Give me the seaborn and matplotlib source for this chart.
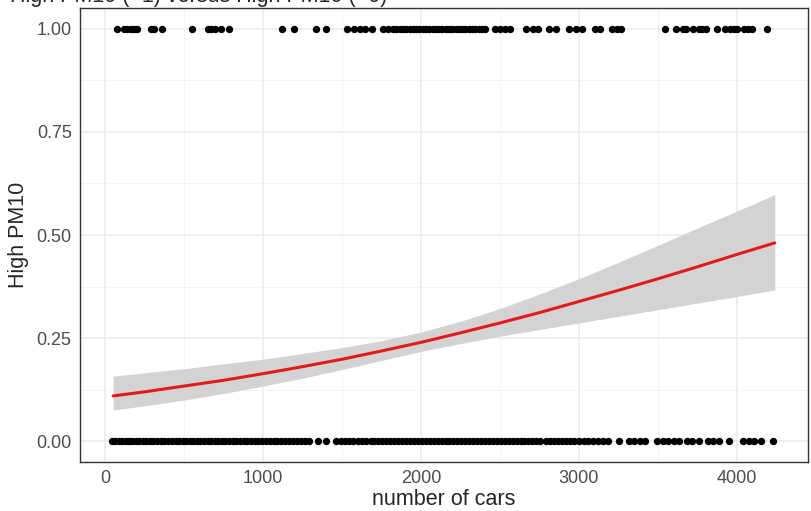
import matplotlib
matplotlib.use('Agg')
import matplotlib.pyplot as plt
import seaborn as sns
import pandas as pd

# observations with high PM10 (=1)
cars_high = [77, 119, 140, 161, 181, 202, 290, 311, 362, 550, 650, 671, 692, 733, 781,
             1119, 1198, 1337, 1396, 1531, 1573, 1614, 1646, 1688, 1760, 1792, 1823,
             1844, 1865, 1885, 1906, 1927, 1948, 1969, 1990, 2010, 2031, 2052, 2073,
             2094, 2115, 2135, 2156, 2177, 2198, 2219, 2240, 2260, 2281, 2302, 2323,
             2344, 2365, 2385, 2406, 2469, 2500, 2531, 2563, 2667, 2708, 2740, 2813,
             2854, 2938, 2979, 3019, 3102, 3133, 3206, 3238, 3269, 3542, 3615, 3656,
             3677, 3719, 3760, 3781, 3802, 3875, 3927, 3958, 3979, 4000, 4042, 4073,
             4094, 4188]

# observations with high PM10 (=0)
cars_low = [40, 60, 85, 105, 130, 150, 170, 195, 215, 240, 260, 285, 305, 330, 350, 375,
            400, 420, 445, 465, 490, 510, 535, 555, 580, 600, 625, 650, 670, 695, 715,
            740, 760, 785, 810, 830, 855, 880, 900, 925, 950, 970, 995, 1020, 1045,
            1070, 1090, 1115, 1140, 1165, 1190, 1215, 1240, 1265, 1290, 1350, 1400,
            1462, 1494, 1520, 1545, 1570, 1600, 1625, 1650, 1681, 1705, 1730, 1755,
            1780, 1805, 1830, 1855, 1880, 1905, 1930, 1955, 1980, 2005, 2030, 2055,
            2080, 2105, 2130, 2155, 2180, 2205, 2230, 2256, 2280, 2305, 2330, 2355,
            2380, 2405, 2430, 2455, 2480, 2505, 2530, 2555, 2580, 2605, 2630, 2655,
            2680, 2705, 2730, 2755, 2794, 2819, 2845, 2870, 2895, 2920, 2945, 2970,
            3000, 3030, 3060, 3090, 3120, 3150, 3181, 3256, 3319, 3350, 3385, 3419,
            3494, 3530, 3565, 3600, 3631, 3681, 3715, 3762, 3819, 3850, 3887, 3950,
            4037, 4075, 4110, 4150, 4231]

# fitted logistic curve with confidence band
fit_x = [50, 250, 500, 750, 1000, 1250, 1500, 1750, 2000, 2250, 2500, 2750, 3000,
         3250, 3500, 3750, 4000, 4240]
fit_p = [0.110, 0.120, 0.134, 0.148, 0.164, 0.181, 0.199, 0.219, 0.240, 0.263, 0.287,
         0.312, 0.339, 0.366, 0.394, 0.423, 0.453, 0.481]
fit_hi = [0.158, 0.166, 0.176, 0.188, 0.199, 0.213, 0.227, 0.244, 0.265, 0.291, 0.322,
          0.357, 0.394, 0.434, 0.475, 0.517, 0.558, 0.598]
fit_lo = [0.076, 0.086, 0.100, 0.116, 0.134, 0.153, 0.174, 0.196, 0.218, 0.237, 0.255,
          0.271, 0.287, 0.303, 0.319, 0.335, 0.351, 0.367]

df = pd.DataFrame({'cars': cars_high + cars_low,
                   'high': [1] * len(cars_high) + [0] * len(cars_low)})
fit = pd.DataFrame({'cars': fit_x, 'p': fit_p, 'hi': fit_hi, 'lo': fit_lo})

sns.set_style('whitegrid')
plt.rcParams['font.family'] = ['Liberation Sans', 'DejaVu Sans']

fig, ax = plt.subplots(figsize=(8.12, 5.11), dpi=100)
fig.subplots_adjust(left=0.0985, right=0.995, top=0.984, bottom=0.096)

ax.fill_between(fit['cars'], fit['lo'], fit['hi'], color='#D3D3D3', lw=0, zorder=2)
sns.lineplot(data=fit, x='cars', y='p', color='#E31A1C', lw=2.2, ax=ax, zorder=3)
sns.scatterplot(data=df, x='cars', y='high', color='black', s=28, linewidth=0,
                ax=ax, zorder=4)

ax.set_xlim(-160, 4450)
ax.set_ylim(-0.05, 1.05)
ax.set_xticks([0, 1000, 2000, 3000, 4000])
ax.set_yticks([0, 0.25, 0.5, 0.75, 1.0])
ax.set_yticklabels(['0.00', '0.25', '0.50', '0.75', '1.00'])
ax.set_xticks([500, 1500, 2500, 3500], minor=True)
ax.set_yticks([0.125, 0.375, 0.625, 0.875], minor=True)
ax.grid(which='major', color='#EBEBEB', lw=1.1)
ax.grid(which='minor', color='#F2F2F2', lw=0.6)
ax.set_axisbelow(True)

for sp in ax.spines.values():
    sp.set_color('#333333')
    sp.set_linewidth(1.0)
ax.tick_params(which='major', length=4, width=0.9, color='#333333',
               labelcolor='#4D4D4D', labelsize=13, pad=2)
ax.tick_params(which='minor', length=0)

ax.set_xlabel('number of cars', fontsize=15.5, labelpad=1)
ax.set_ylabel('High PM10', fontsize=15.5, labelpad=5)

# title sits partly above the top edge, as in the original
fig.text(0.012, 0.987, 'High PM10 (=1) versus High PM10 (=0)', fontsize=15.5,
         ha='left', va='bottom')

plt.savefig('out.png', dpi=100)
